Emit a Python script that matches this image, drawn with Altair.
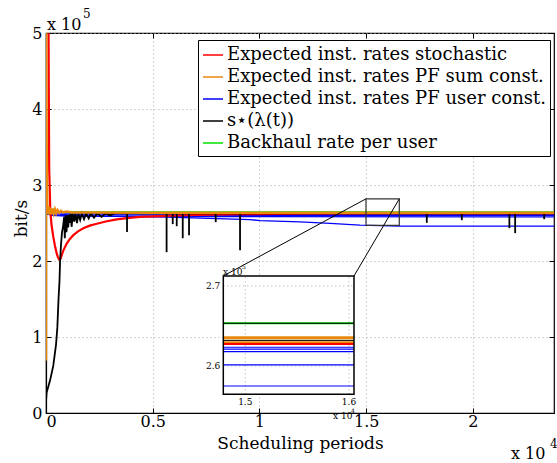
import altair as alt
import pandas as pd

# ---------------- data (x: scheduling periods, y: bit/s in units of 1e5) ----------------
SERIES = ["Expected inst. rates stochastic",
          "Expected inst. rates PF sum const.",
          "Expected inst. rates PF user const.",
          "s\u22c6(\u03bb(t))",
          "Backhaul rate per user"]
COLORS = ["#ff0000", "#e8890c", "#0000ff", "#000000", "#00e000"]

x_ticks = [0, 5000, 10000, 15000, 20000]
y_ticks = [0, 1, 2, 3, 4, 5]
X_DOM = [0, 23800]
Y_DOM = [0, 5]

red_x = [120, 135, 150, 180, 200, 260, 340, 420, 500, 560, 620, 680, 800, 970, 1120, 1280, 1500, 1750,
         2050, 2380, 2800, 3310, 3800, 4400, 5000, 5650, 7000, 9000, 12000, 16000, 20000, 23800]
red_y = [5.0, 4.0, 3.2, 2.9, 2.67, 2.47, 2.32, 2.2, 2.1, 2.05, 2.02, 2.03, 2.13, 2.23, 2.29, 2.34, 2.39, 2.43,
         2.465, 2.49, 2.52, 2.547, 2.565, 2.58, 2.588, 2.594, 2.605, 2.615, 2.622, 2.626, 2.627, 2.627]

orange_x = [0, 5, 20, 40, 60, 90, 120, 160, 200, 250, 300, 360, 420, 480, 540, 620, 700, 800, 950,
            1200, 2000, 5000, 23800]
orange_y = [0.69, 5.0, 4.0, 3.2, 2.75, 2.62, 2.72, 2.61, 2.70, 2.62, 2.69, 2.625, 2.68, 2.63, 2.67, 2.635,
            2.66, 2.64, 2.65, 2.638, 2.637, 2.636, 2.636]

black_x = [0, 30, 190, 340, 470, 530, 590, 630, 660, 700, 750, 800, 850, 880, 920, 960, 1000, 1040, 1080,
           1120, 1160, 1200, 1260, 1320, 1380, 1450, 1520, 1600, 1680, 1780, 1880, 2000, 2100, 2250, 2400,
           2600, 2800, 3000, 3200, 23800]
black_y = [0.15, 0.27, 0.43, 0.62, 0.9, 1.12, 1.52, 1.72, 2.0, 2.2, 2.38, 2.45, 2.58, 2.3, 2.6, 2.38, 2.6,
           2.44, 2.61, 2.5, 2.62, 2.45, 2.62, 2.52, 2.62, 2.5, 2.62, 2.54, 2.625, 2.55, 2.627, 2.56, 2.627,
           2.57, 2.627, 2.58, 2.627, 2.6, 2.627, 2.627]
black_level = 2.627
spike_x = [3796, 5650, 5937, 6125, 6406, 6701, 7952, 9091, 17840, 19480, 21710, 21980, 23340]
spike_y = [2.383, 2.116, 2.485, 2.458, 2.30, 2.34, 2.511, 2.142, 2.502, 2.537, 2.432, 2.367, 2.55]

blue_x = [[0, 300, 1000, 5000, 23800],
          [0, 300, 1000, 5000, 23800],
          [0, 300, 1000, 5000, 23800],
          [0, 300, 1000, 2000, 5340, 9560, 10030, 11900, 13310, 14710, 16590, 23800]]
blue_y = [[2.66, 2.64, 2.63, 2.62, 2.618],
          [2.64, 2.62, 2.61, 2.603, 2.60],
          [2.62, 2.60, 2.595, 2.585, 2.58],
          [2.63, 2.60, 2.595, 2.59, 2.58, 2.545, 2.53, 2.515, 2.494, 2.472, 2.458, 2.458]]

green_x = [0, 23800]
green_y = [2.642, 2.642]

# zoom box in the main axes and connector end points
box_x = [14992, 16552]
box_y = [2.468, 2.818]
conn_x1 = [14992, 16552]
conn_y1 = [2.818, 2.818]
conn_x2 = [8307, 14430]
conn_y2 = [1.803, 1.803]

# inset (zoomed) axes
ins_x_dom = [14788, 16048]
ins_y_dom = [2.5646, 2.7125]
ins_x_ticks = [15000, 16000]
ins_y_ticks = [2.6, 2.7]
ins_green = [2.6534]
ins_orange = [2.6354, 2.6291]
ins_black = [2.6534, 2.632]
ins_red = [2.6275]
ins_blue = [2.6234, 2.621, 2.618, 2.6013, 2.575]

# ---------------- layout constants ----------------
W, H = 508, 380
FONT = "DejaVu Serif, Liberation Serif, serif"
LEG_FONT = "DejaVu Serif, Liberation Serif, serif"


def line_df(name, xs, ys, user=0):
    return pd.DataFrame({"series": name, "user": user, "x": xs, "y": ys})


color = alt.Color(
    "series:N",
    scale=alt.Scale(domain=SERIES, range=COLORS),
    legend=alt.Legend(
        title=None, orient="none", legendX=152, legendY=7, direction="vertical",
        symbolType="stroke", symbolSize=400, symbolStrokeWidth=1.5,
        labelFont=LEG_FONT, labelFontSize=18, labelColor="black", labelLimit=500,
        labelOffset=3, rowPadding=2, padding=4, fillColor="white", strokeColor="black",
    ),
)

xs = alt.Scale(domain=X_DOM, nice=False, zero=False)
ys = alt.Scale(domain=Y_DOM, nice=False, zero=False)


def X(axis=None, field="x:Q"):
    return alt.X(field, scale=xs, axis=axis)


def Y(axis=None, field="y:Q"):
    return alt.Y(field, scale=ys, axis=axis)


main_x_axis = alt.Axis(values=x_ticks, labelExpr="datum.value / 10000", title="Scheduling periods",
                       grid=True, gridColor="#a8a8a8", gridDash=[1, 3], tickSize=0, labelPadding=0,
                       domainColor="black", domainWidth=1.2, titleY=35, titleBaseline="alphabetic",
                       titleFontSize=17)
main_y_axis = alt.Axis(values=y_ticks, title="bit/s", grid=True, gridColor="#a8a8a8", gridDash=[1, 3],
                       tickSize=0, labelPadding=4, domainColor="black", domainWidth=1.2,
                       titleX=-20, titleY=185, titleBaseline="alphabetic", titleAngle=-90)
tick_common = dict(labels=False, domain=False, grid=False, tickSize=5, tickColor="black", title=None)
x_in_bottom = alt.Axis(orient="top", offset=-H, values=x_ticks, **tick_common)
x_in_top = alt.Axis(orient="bottom", offset=-H, values=x_ticks, **tick_common)
y_in_left = alt.Axis(orient="right", offset=-W, values=y_ticks, **tick_common)
y_in_right = alt.Axis(orient="left", offset=-W, values=y_ticks, **tick_common)

green_l = alt.Chart(line_df(SERIES[4], green_x, green_y)).mark_line(strokeWidth=1.8, clip=True).encode(
    x=X(main_x_axis), y=Y(main_y_axis), color=color)

blue_df = pd.concat([line_df(SERIES[2], bx, by, i) for i, (bx, by) in enumerate(zip(blue_x, blue_y))])
blue_l = alt.Chart(blue_df).mark_line(strokeWidth=1.3, clip=True).encode(
    x=X(x_in_bottom), y=Y(y_in_left), color=color, detail="user:N")

red_l = alt.Chart(line_df(SERIES[0], red_x, red_y)).mark_line(strokeWidth=2.2, clip=True).encode(
    x=X(x_in_top), y=Y(y_in_right), color=color)

black_l = alt.Chart(line_df(SERIES[3], black_x, black_y)).mark_line(strokeWidth=1.8, clip=True).encode(
    x=X(), y=Y(), color=color)

spikes = alt.Chart(pd.DataFrame({"x": spike_x, "y": spike_y, "y2": black_level})).mark_rule(
    strokeWidth=1.8, color="black", clip=True).encode(x=X(), y=Y(), y2="y2:Q")

orange_l = alt.Chart(line_df(SERIES[1], orange_x, orange_y)).mark_line(strokeWidth=2.5, clip=True).encode(
    x=X(), y=Y(), color=color)

box = alt.Chart(pd.DataFrame({"x": [box_x[0]], "x2": [box_x[1]], "y": [box_y[0]], "y2": [box_y[1]]})).mark_rect(
    fill=None, stroke="#333333", strokeWidth=1.2).encode(x=X(), x2="x2:Q", y=Y(), y2="y2:Q")

conn = alt.Chart(pd.DataFrame({"x": conn_x1, "y": conn_y1, "x2": conn_x2, "y2": conn_y2})).mark_rule(
    color="black", strokeWidth=1).encode(x=X(), y=Y(), x2="x2:Q", y2="y2:Q")

# exponent annotations (placed in pixels, outside the data area)
exp_txt = pd.DataFrame({"t": ["x 10", "5", "x 10", "4"],
                        "px": [1, 37, 465, 504], "py": [-3, -15, 426, 415],
                        "fs": ["big", "small", "big", "small"]})
exp_big = alt.Chart(exp_txt[exp_txt.fs == "big"]).mark_text(
    font=FONT, fontSize=16, align="left", baseline="alphabetic", color="black").encode(
    x=alt.X("px:Q", scale=None), y=alt.Y("py:Q", scale=None), text="t:N")
exp_small = alt.Chart(exp_txt[exp_txt.fs == "small"]).mark_text(
    font=FONT, fontSize=12, align="left", baseline="alphabetic", color="black").encode(
    x=alt.X("px:Q", scale=None), y=alt.Y("py:Q", scale=None), text="t:N")

main = alt.layer(green_l, blue_l, red_l, black_l, spikes, orange_l, box, conn, exp_big, exp_small
                 ).resolve_axis(x="independent", y="independent")

# ---------------- inset ----------------
ixs = alt.Scale(domain=ins_x_dom, range=[177.3, 308], nice=False, zero=False)
iys = alt.Scale(domain=ins_y_dom, range=[361.3, 243], nice=False, zero=False)


def IX(field="x:Q"):
    return alt.X(field, scale=ixs, axis=None)


def IY(field="y:Q"):
    return alt.Y(field, scale=iys, axis=None)


frame_df = pd.DataFrame({"x": [ins_x_dom[0]], "x2": [ins_x_dom[1]], "y": [ins_y_dom[0]], "y2": [ins_y_dom[1]]})
ins_bg = alt.Chart(frame_df).mark_rect(fill="white", stroke=None).encode(x=IX(), x2="x2:Q", y=IY(), y2="y2:Q")
ins_frame = alt.Chart(frame_df).mark_rect(fill=None, stroke="black", strokeWidth=1.5).encode(
    x=IX(), x2="x2:Q", y=IY(), y2="y2:Q")

ins_vgrid = alt.Chart(pd.DataFrame({"x": ins_x_ticks, "y": ins_y_dom[0], "y2": ins_y_dom[1]})).mark_rule(
    color="#a8a8a8", strokeDash=[1, 3]).encode(x=IX(), y=IY(), y2="y2:Q")
ins_hgrid = alt.Chart(pd.DataFrame({"y": ins_y_ticks, "x": ins_x_dom[0], "x2": ins_x_dom[1]})).mark_rule(
    color="#a8a8a8", strokeDash=[1, 3]).encode(y=IY(), x=IX(), x2="x2:Q")


def flat_df(name, levels):
    rows = []
    for i, v in enumerate(levels):
        for xv in ins_x_dom:
            rows.append({"series": name, "user": i, "x": xv, "y": v})
    return pd.DataFrame(rows)


def ins_line(name, levels, width):
    return alt.Chart(flat_df(name, levels)).mark_line(strokeWidth=width).encode(
        x=IX(), y=IY(), color=color, detail="user:N")


ins_lines = [
    ins_line(SERIES[4], ins_green, 2.0),
    ins_line(SERIES[1], ins_orange, 3.0),
    ins_line(SERIES[3], ins_black, 1.0),
    ins_line(SERIES[0], ins_red, 2.2),
    ins_line(SERIES[2], ins_blue, 1.2),
]

ins_ylab = alt.Chart(pd.DataFrame({"y": ins_y_ticks, "x": ins_x_dom[0]})).mark_text(
    font=FONT, fontSize=9, align="right", baseline="middle", dx=-3, color="black").encode(
    x=IX(), y=IY(), text=alt.Text("y:Q", format=".1f"))
ins_xlab = alt.Chart(pd.DataFrame({"x": ins_x_ticks, "y": ins_y_dom[0]})).mark_text(
    font=FONT, fontSize=9, align="center", baseline="top", dy=4, color="black").encode(
    x=IX(), y=IY(), text=alt.Text("lab:N")).transform_calculate(lab="format(datum.x / 10000, '.1f')")

ins_exp = pd.DataFrame({"t": ["x 10", "5", "x 10", "4"],
                        "px": [177, 196, 287, 305], "py": [242, 236, 386, 380],
                        "fs": ["big", "small", "big", "small"]})
ins_exp_big = alt.Chart(ins_exp[ins_exp.fs == "big"]).mark_text(
    font=FONT, fontSize=9, align="left", baseline="alphabetic", color="black").encode(
    x=alt.X("px:Q", scale=None), y=alt.Y("py:Q", scale=None), text="t:N")
ins_exp_small = alt.Chart(ins_exp[ins_exp.fs == "small"]).mark_text(
    font=FONT, fontSize=6, align="left", baseline="alphabetic", color="black").encode(
    x=alt.X("px:Q", scale=None), y=alt.Y("py:Q", scale=None), text="t:N")

inset = alt.layer(ins_bg, ins_vgrid, ins_hgrid, *ins_lines, ins_frame, ins_ylab, ins_xlab,
                  ins_exp_big, ins_exp_small)

chart = alt.layer(main, inset).resolve_scale(x="independent", y="independent").properties(
    width=W, height=H,
    autosize=alt.AutoSizeParams(type="none"),
    padding={"left": 46, "top": 33, "right": 3, "bottom": 50},
).configure_view(stroke="black", strokeWidth=1.2).configure_axis(
    labelFont=FONT, labelFontSize=16, labelColor="black",
    titleFont=FONT, titleFontSize=17, titleFontWeight="normal", titleColor="black",
)

chart.save("out.html", embed_options={"renderer": "svg", "actions": False})
